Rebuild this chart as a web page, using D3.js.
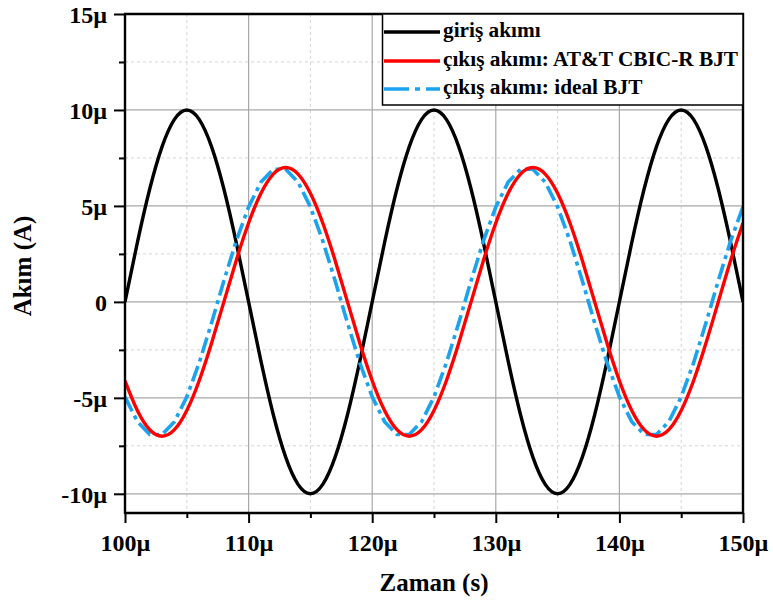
<!DOCTYPE html>
<html>
<head>
<meta charset="utf-8">
<script src="https://cdn.jsdelivr.net/npm/d3@7"></script>
<style>
  html, body { margin: 0; padding: 0; background: #fff; }
  svg { display: block; }
  text { font-family: "Liberation Serif", "Times New Roman", serif; font-weight: bold; fill: #000; }
</style>
</head>
<body>
<svg id="chart" width="773" height="604"></svg>
<script>
// Time axis samples (µs)
const timeUs = d3.range(100, 151, 1);

// Input current, µA
const inputCurrent = [
  0, 3.09, 5.88, 8.09, 9.51, 10, 9.51, 8.09, 5.88, 3.09,
  0, -3.09, -5.88, -8.09, -9.51, -10, -9.51, -8.09, -5.88, -3.09,
  0, 3.09, 5.88, 8.09, 9.51, 10, 9.51, 8.09, 5.88, 3.09,
  0, -3.09, -5.88, -8.09, -9.51, -10, -9.51, -8.09, -5.88, -3.09,
  0, 3.09, 5.88, 8.09, 9.51, 10, 9.51, 8.09, 5.88, 3.09,
  0
];

// Output current, AT&T CBIC-R BJT model, µA
const outputCbic = [
  -4.11, -5.66, -6.66, -7.0, -6.66, -5.66, -4.11, -2.16, 0, 2.16,
  4.11, 5.66, 6.66, 7.0, 6.66, 5.66, 4.11, 2.16, 0, -2.16,
  -4.11, -5.66, -6.66, -7.0, -6.66, -5.66, -4.11, -2.16, 0, 2.16,
  4.11, 5.66, 6.66, 7.0, 6.66, 5.66, 4.11, 2.16, 0, -2.16,
  -4.11, -5.66, -6.66, -7.0, -6.66, -5.66, -4.11, -2.16, 0, 2.16,
  4.11
];

// Output current, ideal BJT, µA
const outputIdeal = [
  -4.95, -6.24, -6.91, -6.91, -6.24, -4.95, -3.18, -1.10, 1.10, 3.18,
  4.95, 6.24, 6.91, 6.91, 6.24, 4.95, 3.18, 1.10, -1.10, -3.18,
  -4.95, -6.24, -6.91, -6.91, -6.24, -4.95, -3.18, -1.10, 1.10, 3.18,
  4.95, 6.24, 6.91, 6.91, 6.24, 4.95, 3.18, 1.10, -1.10, -3.18,
  -4.95, -6.24, -6.91, -6.91, -6.24, -4.95, -3.18, -1.10, 1.10, 3.18,
  4.95
];

const xTicks = [100, 110, 120, 130, 140, 150];
const xMinorTicks = [105, 115, 125, 135, 145];
const yTicks = [-10, -5, 0, 5, 10, 15];
const yMinorTicks = [-7.5, -2.5, 2.5, 7.5, 12.5];

const seriesNames = ["giriş akımı", "çıkış akımı: AT&T CBIC-R BJT", "çıkış akımı: ideal BJT"];
const seriesColors = ["#000000", "#ff0000", "#1aa3ee"];

const svg = d3.select("#chart");
const pLeft = 125, pRight = 743, pTop = 14, pBottom = 513;

const x = d3.scaleLinear().domain([100, 150]).range([pLeft, pRight]);
const y = d3.scaleLinear().domain([-11, 15]).range([pBottom, pTop]);

const fmtX = d => d + "µ";
const fmtY = d => d === 0 ? "0" : d + "µ";

// Grid: dashed minor, solid major
const grid = svg.append("g");
grid.selectAll(".gxm").data(xMinorTicks).join("line")
  .attr("x1", d => x(d)).attr("x2", d => x(d)).attr("y1", pTop).attr("y2", pBottom)
  .attr("stroke", "#d4d4d4").attr("stroke-width", 1).attr("stroke-dasharray", "3,3");
grid.selectAll(".gym").data(yMinorTicks).join("line")
  .attr("y1", d => y(d)).attr("y2", d => y(d)).attr("x1", pLeft).attr("x2", pRight)
  .attr("stroke", "#d4d4d4").attr("stroke-width", 1).attr("stroke-dasharray", "3,3");
grid.selectAll(".gx").data(xTicks.slice(1, -1)).join("line")
  .attr("x1", d => x(d)).attr("x2", d => x(d)).attr("y1", pTop).attr("y2", pBottom)
  .attr("stroke", "#a8a8a8").attr("stroke-width", 1.2);
grid.selectAll(".gy").data(yTicks.slice(0, -1)).join("line")
  .attr("y1", d => y(d)).attr("y2", d => y(d)).attr("x1", pLeft).attr("x2", pRight)
  .attr("stroke", "#a8a8a8").attr("stroke-width", 1.2);

// Curves
svg.append("clipPath").attr("id", "plotclip")
  .append("rect").attr("x", pLeft).attr("y", pTop).attr("width", pRight - pLeft).attr("height", pBottom - pTop);

const plot = svg.append("g").attr("clip-path", "url(#plotclip)");
const lineSmooth = d3.line().x((d, i) => x(timeUs[i])).y(d => y(d)).curve(d3.curveNatural);
const lineStraight = d3.line().x((d, i) => x(timeUs[i])).y(d => y(d)).curve(d3.curveLinear);

plot.append("path").datum(inputCurrent).attr("d", lineSmooth)
  .attr("fill", "none").attr("stroke", seriesColors[0]).attr("stroke-width", 3.4);
plot.append("path").datum(outputIdeal).attr("d", lineStraight)
  .attr("fill", "none").attr("stroke", seriesColors[2]).attr("stroke-width", 3.6)
  .attr("stroke-dasharray", "16,5,4,5");
plot.append("path").datum(outputCbic).attr("d", lineSmooth)
  .attr("fill", "none").attr("stroke", seriesColors[1]).attr("stroke-width", 3.4);

// Axes
const axX = svg.append("g").attr("transform", `translate(0,${pBottom})`)
  .call(d3.axisBottom(x).tickValues(xTicks).tickFormat(fmtX).tickSize(10).tickPadding(11));
const axXm = svg.append("g").attr("transform", `translate(0,${pBottom})`)
  .call(d3.axisBottom(x).tickValues(xMinorTicks).tickFormat("").tickSize(5));
const axY = svg.append("g").attr("transform", `translate(${pLeft},0)`)
  .call(d3.axisLeft(y).tickValues(yTicks).tickFormat(fmtY).tickSize(11).tickPadding(7));
const axYm = svg.append("g").attr("transform", `translate(${pLeft},0)`)
  .call(d3.axisLeft(y).tickValues(yMinorTicks).tickFormat("").tickSize(6));

[axX, axXm, axY, axYm].forEach(g => {
  g.select(".domain").remove();
  g.selectAll("line").attr("stroke", "#000").attr("stroke-width", 2);
  g.selectAll("text").style("font-size", "24px");
});
axY.selectAll("text").attr("dy", "0.36em");

// Frame
svg.append("line").attr("x1", pLeft).attr("x2", pLeft).attr("y1", pTop - 1).attr("y2", pBottom + 1)
  .attr("stroke", "#000").attr("stroke-width", 2.4);
svg.append("line").attr("x1", pLeft - 1).attr("x2", pRight + 1).attr("y1", pBottom).attr("y2", pBottom)
  .attr("stroke", "#000").attr("stroke-width", 2.4);
svg.append("line").attr("x1", pLeft - 1).attr("x2", pRight + 1).attr("y1", pTop).attr("y2", pTop)
  .attr("stroke", "#000").attr("stroke-width", 2.4);
svg.append("line").attr("x1", pRight).attr("x2", pRight).attr("y1", pTop - 1).attr("y2", pBottom + 1)
  .attr("stroke", "#000").attr("stroke-width", 2.4);

// Axis titles
svg.append("text").attr("x", 434).attr("y", 591)
  .attr("text-anchor", "middle").style("font-size", "25px").text("Zaman (s)");
svg.append("text").attr("transform", "translate(31,266) rotate(-90)")
  .attr("text-anchor", "middle").style("font-size", "25px").text("Akım (A)");

// Legend
const lg = svg.append("g");
lg.append("rect").attr("x", 382.5).attr("y", pTop).attr("width", pRight - 382.5).attr("height", 91)
  .attr("fill", "#fff").attr("stroke", "#000").attr("stroke-width", 1.5);
const rowsY = [32, 61, 89];
const dashes = [null, null, "25,6,5,6"];
seriesNames.forEach((name, i) => {
  lg.append("line").attr("x1", 384).attr("x2", 440).attr("y1", rowsY[i]).attr("y2", rowsY[i])
    .attr("stroke", seriesColors[i]).attr("stroke-width", 3.6)
    .attr("stroke-dasharray", dashes[i]);
  lg.append("text").attr("x", 443).attr("y", rowsY[i]).attr("dy", "0.24em")
    .style("font-size", "21.3px").text(name);
});
</script>
</body>
</html>
